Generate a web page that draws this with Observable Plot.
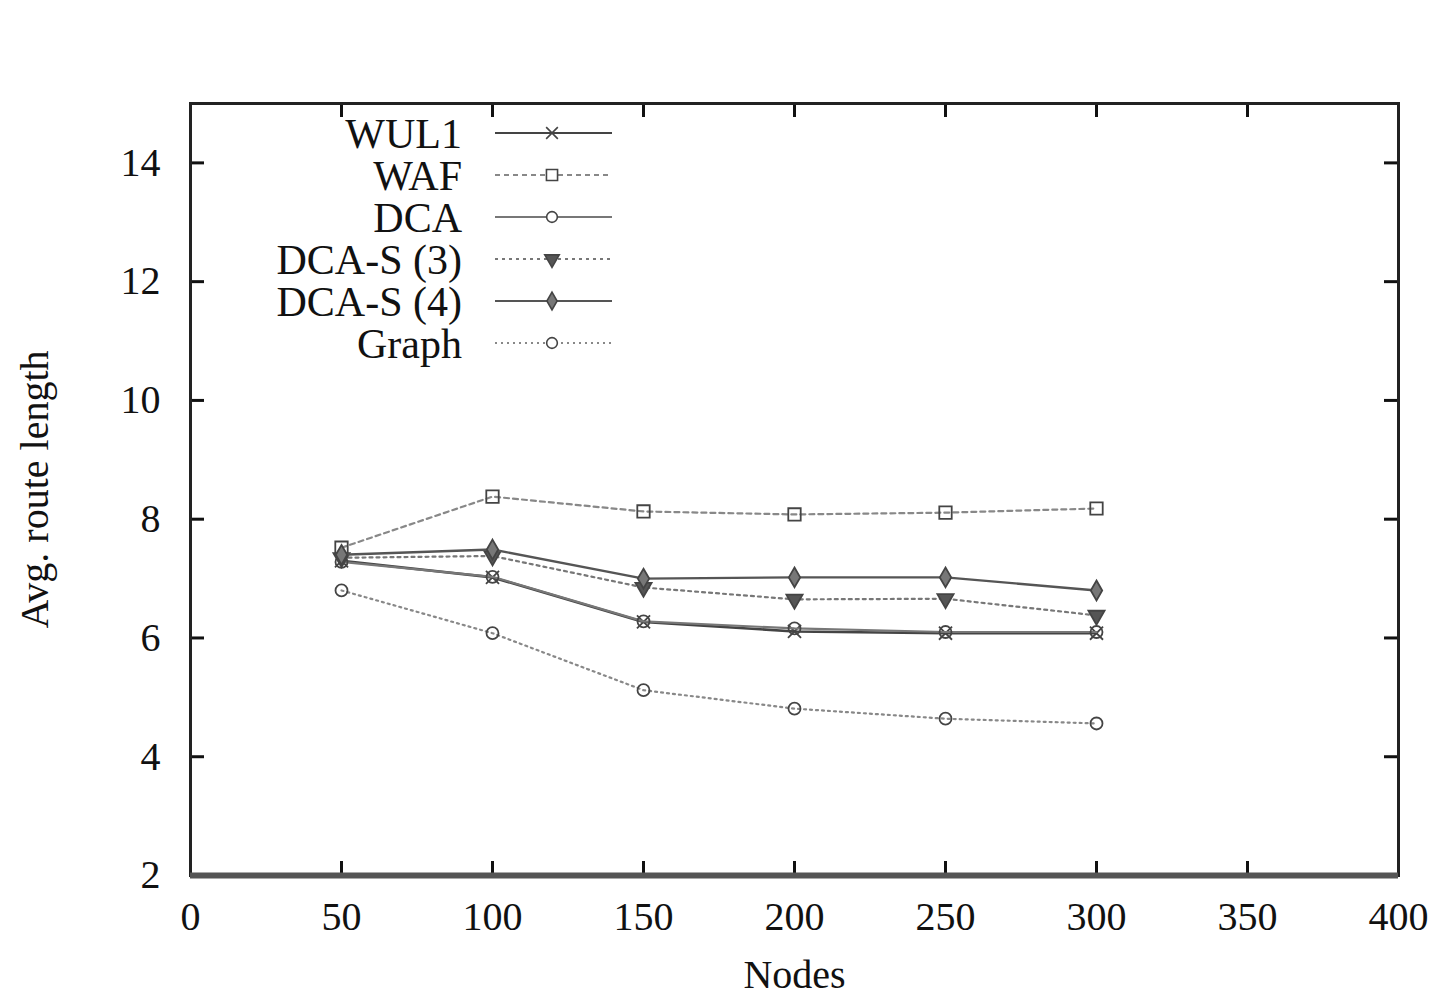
<!DOCTYPE html>
<html><head><meta charset="utf-8">
<script src="https://cdn.jsdelivr.net/npm/d3@7"></script>
<script src="https://cdn.jsdelivr.net/npm/@observablehq/plot@0.6"></script>
<style>
html,body{margin:0;padding:0;background:#fff;}
#chart{width:1439px;height:1001px;overflow:hidden;}
</style>
</head><body><div id="chart"></div>
<script>
const nodes = [50, 100, 150, 200, 250, 300];
const seriesNames = ["WUL1", "WAF", "DCA", "DCA-S (3)", "DCA-S (4)", "Graph"];
const wul1  = [7.30, 7.02, 6.27, 6.11, 6.08, 6.08];
const waf   = [7.52, 8.38, 8.13, 8.08, 8.11, 8.18];
const dca   = [7.28, 7.03, 6.28, 6.16, 6.10, 6.10];
const dcas3 = [7.35, 7.38, 6.85, 6.65, 6.66, 6.38];
const dcas4 = [7.40, 7.49, 7.00, 7.02, 7.02, 6.80];
const graph = [6.80, 6.08, 5.12, 4.81, 4.64, 4.56];
const xTicks = [0, 50, 100, 150, 200, 250, 300, 350, 400];
const yTicks = [2, 4, 6, 8, 10, 12, 14];
const xLabel = "Nodes";
const yLabel = "Avg. route length";

const values = [wul1, waf, dca, dcas3, dcas4, graph];
const styles = [
  {stroke: "#444", dash: null, symbol: "times", fill: "none", r: 6, rotate: 0, w: 2.6},
  {stroke: "#888", dash: "5,4", symbol: "square", fill: "none", r: 7, rotate: 0, w: 2.2},
  {stroke: "#777", dash: null, symbol: "circle", fill: "none", r: 6, rotate: 0, w: 2.2},
  {stroke: "#777", dash: "3,4", symbol: "triangle", fill: "#555", r: 6, rotate: 180, w: 2.2},
  {stroke: "#555", dash: null, symbol: "diamond", fill: "#777", r: 6, rotate: 0, w: 2.4},
  {stroke: "#888", dash: "2,4", symbol: "circle", fill: "none", r: 6, rotate: 0, w: 2.2}
];

const W = 1439, H = 1001;
const mL = 190, mR = 41, mT = 103, mB = 126;
const innerH = H - mT - mB, innerW = W - mL - mR;
const tickLen = 14;
const font = "'Liberation Serif', 'DejaVu Serif', serif";

const marks = [];
values.forEach((vals, i) => {
  const s = styles[i];
  const data = nodes.map((n, j) => ({x: n, y: vals[j]}));
  marks.push(Plot.line(data, {x: "x", y: "y", stroke: s.stroke, strokeWidth: s.w, strokeDasharray: s.dash}));
  marks.push(Plot.dot(data, {x: "x", y: "y", symbol: s.symbol, r: s.r, stroke: "#444", fill: s.fill, strokeWidth: 1.8, rotate: s.rotate}));
});

const chart = Plot.plot({
  width: W, height: H,
  marginLeft: mL, marginRight: mR, marginTop: mT, marginBottom: mB,
  style: {fontFamily: font, background: "#fff", color: "#111"},
  x: {domain: [0, 400]},
  y: {domain: [2, 15]},
  marks: [
    Plot.axisX(xTicks, {tickSize: 0, tickPadding: 26, fontSize: 40, label: null, tickFormat: d => String(d), fill: "#111"}),
    Plot.axisY(yTicks, {tickSize: 0, tickPadding: 30, fontSize: 40, label: null, tickFormat: d => String(d), fill: "#111"}),
    Plot.text([xLabel], {frameAnchor: "bottom", dy: 112, fontSize: 40, fill: "#111", text: d => d}),
    Plot.text([yLabel], {frameAnchor: "left", dx: -155, rotate: -90, textAnchor: "middle", fontSize: 40, fill: "#111", text: d => d}),
    // inward ticks on all four sides (gnuplot style)
    Plot.ruleX(xTicks, {insetTop: innerH - tickLen, stroke: "#111", strokeWidth: 3}),
    Plot.ruleX(xTicks, {insetBottom: innerH - tickLen, stroke: "#111", strokeWidth: 3}),
    Plot.ruleY(yTicks, {insetRight: innerW - tickLen, stroke: "#111", strokeWidth: 3}),
    Plot.ruleY(yTicks, {insetLeft: innerW - tickLen, stroke: "#111", strokeWidth: 3}),
    ...marks,
    Plot.frame({stroke: "#222", strokeWidth: 3}),
    Plot.ruleY([2], {stroke: "#555", strokeWidth: 6})
  ]
});

// legend (gnuplot style, inside top-left)
const svg = d3.select(chart);
const lg = svg.append("g").attr("font-family", font).attr("font-size", 42).attr("fill", "#111");
const symMap = {times: d3.symbolTimes, square: d3.symbolSquare, circle: d3.symbolCircle, triangle: d3.symbolTriangle, diamond: d3.symbolDiamond};
seriesNames.forEach((name, i) => {
  const s = styles[i];
  const yy = 133 + i * 42;
  lg.append("text").attr("x", 462).attr("y", yy).attr("dy", "0.35em").attr("text-anchor", "end").text(name);
  lg.append("line").attr("x1", 495).attr("x2", 612).attr("y1", yy).attr("y2", yy)
    .attr("stroke", s.stroke).attr("stroke-width", 2).attr("stroke-dasharray", s.dash);
  const area = Math.PI * s.r * s.r * 0.8;
  lg.append("path").attr("d", d3.symbol(symMap[s.symbol], area)())
    .attr("transform", `translate(552,${yy}) rotate(${s.rotate})`)
    .attr("fill", s.fill === "none" ? "#fff" : s.fill).attr("stroke", "#444").attr("stroke-width", 1.6);
});

document.getElementById("chart").appendChild(chart);
</script>
</body></html>
